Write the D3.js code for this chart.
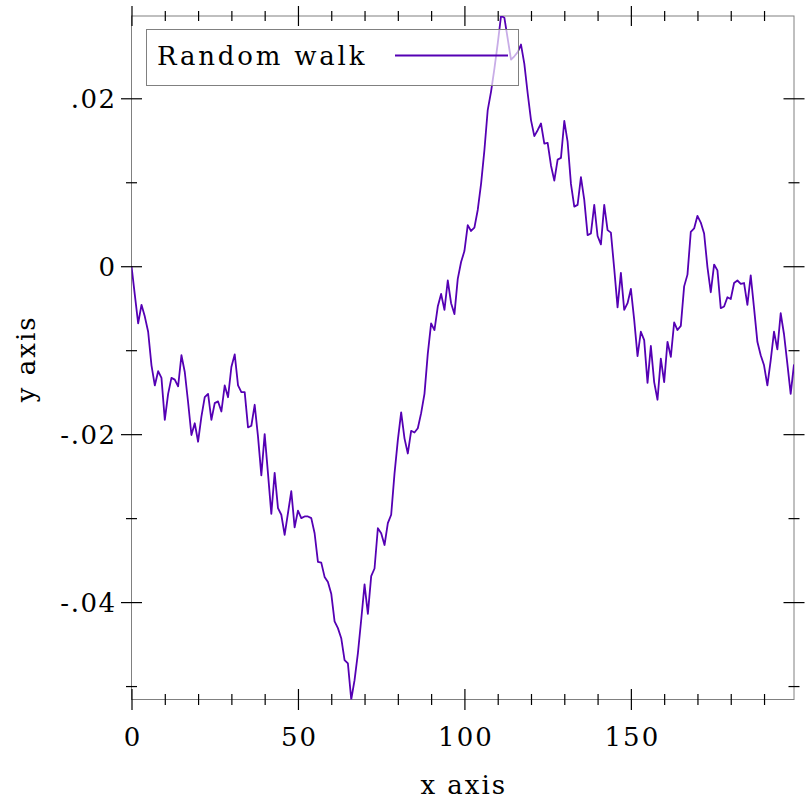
<!DOCTYPE html>
<html>
<head>
<meta charset="utf-8">
<script src="https://cdn.jsdelivr.net/npm/d3@7"></script>
<style>
  html, body { margin: 0; padding: 0; background: #fff; }
  text { font-family: "DejaVu Serif", serif; fill: #000; }
</style>
</head>
<body>
<svg id="chart" width="812" height="812"></svg>
<script>
// ---- data ----
const seriesName = "Random walk";
const walkValues = [
  0, -0.0034, -0.0068, -0.0046, -0.0060, -0.0078, -0.0118, -0.0142, -0.0125, -0.0133,
  -0.0183, -0.0152, -0.0133, -0.0135, -0.0143, -0.0106, -0.0126, -0.0162, -0.0201, -0.0187,
  -0.0209, -0.0179, -0.0156, -0.0152, -0.0183, -0.0163, -0.0161, -0.0173, -0.0142, -0.0156,
  -0.0120, -0.0105, -0.0142, -0.0150, -0.0150, -0.0192, -0.0190, -0.0165, -0.0203, -0.0249,
  -0.0200, -0.0247, -0.0295, -0.0246, -0.0288, -0.0296, -0.0320, -0.0294, -0.0268, -0.0311,
  -0.0291, -0.0300, -0.0298, -0.0298, -0.0300, -0.0318, -0.0352, -0.0353, -0.0370, -0.0376,
  -0.0390, -0.0423, -0.0431, -0.0443, -0.0469, -0.0473, -0.0516, -0.0493, -0.0461, -0.0421,
  -0.0379, -0.0414, -0.0369, -0.0360, -0.0312, -0.0318, -0.0332, -0.0306, -0.0296, -0.0247,
  -0.0207, -0.0174, -0.0205, -0.0223, -0.0196, -0.0198, -0.0193, -0.0175, -0.0152, -0.0104,
  -0.0068, -0.0076, -0.0048, -0.0033, -0.0052, -0.0017, -0.0044, -0.0057, -0.0015, 0.0005,
  0.0018, 0.0049, 0.0042, 0.0046, 0.0067, 0.0098, 0.0138, 0.0186, 0.0208, 0.0235,
  0.0265, 0.0298, 0.0296, 0.0271, 0.0246, 0.0250, 0.0255, 0.0264, 0.0241, 0.0206,
  0.0174, 0.0155, 0.0162, 0.0170, 0.0146, 0.0147, 0.0120, 0.0102, 0.0127, 0.0129,
  0.0173, 0.0148, 0.0098, 0.0071, 0.0073, 0.0106, 0.0079, 0.0037, 0.0039, 0.0073,
  0.0036, 0.0026, 0.0073, 0.0043, 0.0040, -0.0003, -0.0049, -0.0008, -0.0052, -0.0044,
  -0.0027, -0.0064, -0.0107, -0.0078, -0.0088, -0.0139, -0.0095, -0.0138, -0.0159, -0.0110,
  -0.0138, -0.0090, -0.0108, -0.0067, -0.0076, -0.0071, -0.0024, -0.0010, 0.0041, 0.0045,
  0.0060, 0.0052, 0.0039, -0.0001, -0.0031, 0.0002, -0.0005, -0.0050, -0.0048, -0.0037,
  -0.0039, -0.0020, -0.0017, -0.0021, -0.0020, -0.0046, -0.0011, -0.0050, -0.0090, -0.0106,
  -0.0118, -0.0142, -0.0112, -0.0078, -0.0099, -0.0056, -0.0081, -0.0116, -0.0152, -0.0117
];
const xMajorTicks = [0, 50, 100, 150];
const xMajorLabels = ["0", "50", "100", "150"];
const xMinorTicks = [10, 20, 30, 40, 60, 70, 80, 90, 110, 120, 130, 140, 160, 170, 180, 190];
const yMajorTicks = [-0.04, -0.02, 0, 0.02];
const yMajorLabels = ["-.04", "-.02", "0", ".02"];
const yMinorTicks = [-0.05, -0.03, -0.01, 0.01];
const xTitle = "x axis";
const yTitle = "y axis";

// ---- layout ----
const pLeft = 131.5, pRight = 794, pTop = 16, pBottom = 699.5;
const lineColor = "#5500b4";
const frameColor = "#808080";
const fontSize = 26;

const svg = d3.select("#chart");
const points = walkValues.map((v, i) => ({ x: i, y: v }));

const x = d3.scaleLinear().domain(d3.extent(points, d => d.x)).range([pLeft, pRight]);
const y = d3.scaleLinear().domain(d3.extent(points, d => d.y)).range([pBottom, pTop]);

// clip
svg.append("defs").append("clipPath").attr("id", "plotclip")
  .append("rect").attr("x", pLeft).attr("y", pTop).attr("width", pRight - pLeft).attr("height", pBottom - pTop);

// frame
svg.append("rect").attr("x", pLeft).attr("y", pTop).attr("width", pRight - pLeft).attr("height", pBottom - pTop)
  .attr("stroke", frameColor).attr("stroke-width", 1).attr("fill", "none");

// data line
const line = d3.line().x(d => x(d.x)).y(d => y(d.y));
svg.append("path").datum(points)
  .attr("clip-path", "url(#plotclip)")
  .attr("fill", "none").attr("stroke", lineColor).attr("stroke-width", 1.8)
  .attr("stroke-linejoin", "round")
  .attr("d", line);

// ticks helper: ticks centered on axis lines
function styleTicks(g, half, vertical) {
  g.select(".domain").remove();
  g.selectAll(".tick line").attr("stroke", "#000").attr("stroke-width", 1.2);
  if (vertical) g.selectAll(".tick line").attr("x1", -half).attr("x2", half);
  else g.selectAll(".tick line").attr("y1", -half).attr("y2", half);
}

// bottom axis (major with labels)
const xAxisB = svg.append("g").attr("transform", `translate(0,${pBottom})`)
  .call(d3.axisBottom(x).tickValues(xMajorTicks).tickFormat((d, i) => xMajorLabels[i]).tickSize(10).tickPadding(18));
styleTicks(xAxisB, 10.5, false);
xAxisB.selectAll(".tick text").attr("font-family", "DejaVu Serif").attr("font-size", fontSize).attr("fill", "#000")
  .attr("letter-spacing", 2).attr("dx", 1);

svg.append("g").attr("transform", `translate(0,${pBottom})`)
  .call(d3.axisBottom(x).tickValues(xMinorTicks).tickFormat("").tickSize(5))
  .call(g => styleTicks(g, 5.5, false));

// top axis
svg.append("g").attr("transform", `translate(0,${pTop})`)
  .call(d3.axisTop(x).tickValues(xMajorTicks).tickFormat("").tickSize(10))
  .call(g => styleTicks(g, 10, false));
svg.append("g").attr("transform", `translate(0,${pTop})`)
  .call(d3.axisTop(x).tickValues(xMinorTicks).tickFormat("").tickSize(5))
  .call(g => styleTicks(g, 5, false));

// left axis
const yAxisL = svg.append("g").attr("transform", `translate(${pLeft},0)`)
  .call(d3.axisLeft(y).tickValues(yMajorTicks).tickFormat((d, i) => yMajorLabels[i]).tickSize(10).tickPadding(15));
styleTicks(yAxisL, 10.5, true);
yAxisL.selectAll(".tick text").attr("font-family", "DejaVu Serif").attr("font-size", fontSize).attr("fill", "#000")
  .attr("x", -15).attr("dy", "0.36em").attr("letter-spacing", 1.5);
svg.append("g").attr("transform", `translate(${pLeft},0)`)
  .call(d3.axisLeft(y).tickValues(yMinorTicks).tickFormat("").tickSize(5))
  .call(g => styleTicks(g, 5.5, true));

// right axis
svg.append("g").attr("transform", `translate(${pRight},0)`)
  .call(d3.axisRight(y).tickValues(yMajorTicks).tickFormat("").tickSize(10))
  .call(g => styleTicks(g, 10.5, true));
svg.append("g").attr("transform", `translate(${pRight},0)`)
  .call(d3.axisRight(y).tickValues(yMinorTicks).tickFormat("").tickSize(5))
  .call(g => styleTicks(g, 5.5, true));

// axis titles
svg.append("text").attr("x", (pLeft + pRight) / 2 + 1).attr("y", 794)
  .attr("text-anchor", "middle").attr("font-size", fontSize).attr("letter-spacing", 2).text(xTitle);
svg.append("text").attr("transform", `translate(35,${(pTop + pBottom) / 2 + 1}) rotate(-90)`)
  .attr("text-anchor", "middle").attr("font-size", fontSize).attr("letter-spacing", 2).text(yTitle);

// legend
const lg = svg.append("g");
lg.append("rect").attr("x", 146.5).attr("y", 29.5).attr("width", 372).attr("height", 56)
  .attr("fill", "#fff").attr("fill-opacity", 0.68).attr("stroke", frameColor).attr("stroke-width", 1);
lg.append("text").attr("x", 157).attr("y", 65).attr("font-size", fontSize).attr("letter-spacing", 2.8).text(seriesName);
lg.append("line").attr("x1", 395).attr("x2", 508).attr("y1", 55.5).attr("y2", 55.5)
  .attr("stroke", lineColor).attr("stroke-width", 1.8);
</script>
</body>
</html>
